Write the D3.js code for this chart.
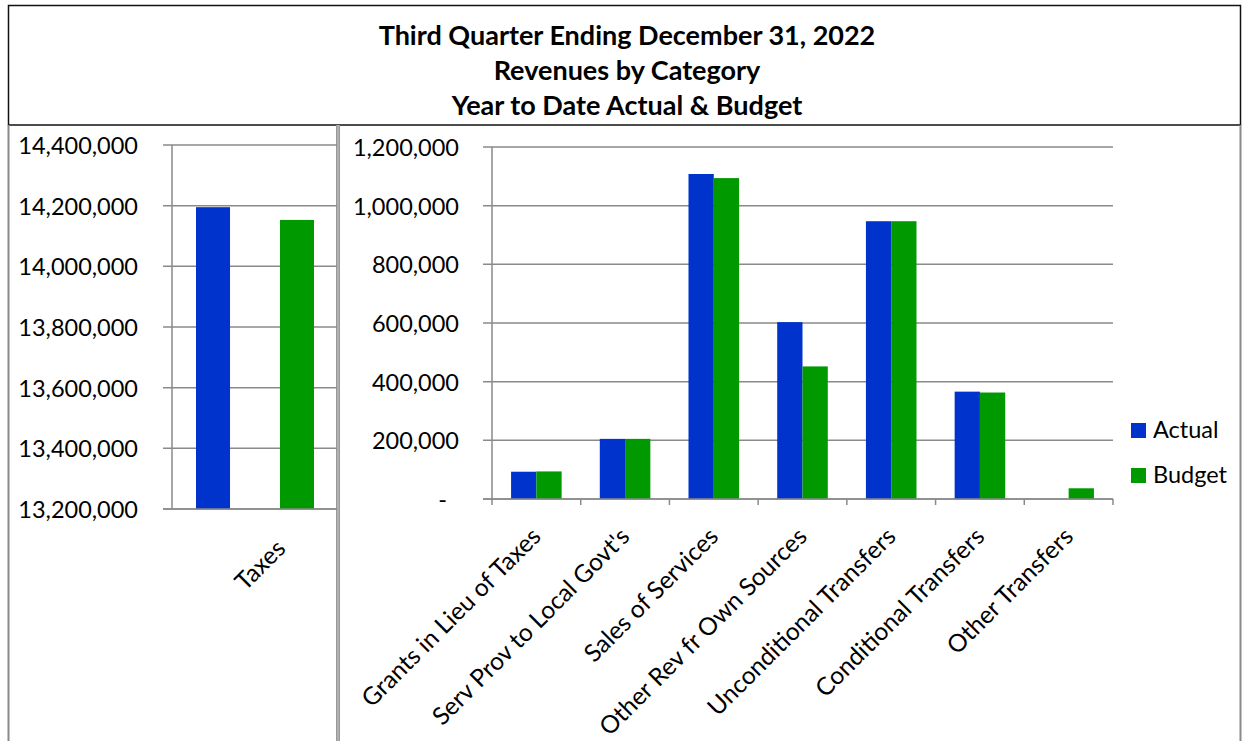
<!DOCTYPE html>
<html>
<head>
<meta charset="utf-8">
<script src="https://cdn.jsdelivr.net/npm/d3@7"></script>
<style>
  body { margin: 0; background: #fff; }
  text { font-family: Lato, "Open Sans", sans-serif; fill: #000; }
</style>
</head>
<body>
<div id="chart"></div>
<script>
// data
var seriesNames = ["Actual", "Budget"]
var seriesColors = ["#0033cc", "#009900"]

var taxesCategory = ["Taxes"]
var taxesActual = [14195000]
var taxesBudget = [14153000]
var taxesTicks = [13200000, 13400000, 13600000, 13800000, 14000000, 14200000, 14400000]

var otherCategories = ["Grants in Lieu of Taxes", "Serv Prov to Local Govt's", "Sales of Services",
  "Other Rev fr Own Sources", "Unconditional Transfers", "Conditional Transfers", "Other Transfers"]
var otherActual = [93000, 205000, 1108000, 603000, 947000, 366000, 0]
var otherBudget = [94000, 205000, 1094000, 452000, 947000, 363000, 36500]
var otherTicks = [0, 200000, 400000, 600000, 800000, 1000000, 1200000]

var titleLines = ["Third Quarter Ending December 31, 2022", "Revenues by Category", "Year to Date Actual & Budget"]

var W = 1246, H = 741
var gridColor = "#8a8a8a"
var fmt = d3.format(",")

var svg = d3.select("#chart").append("svg")
  .attr("width", W)
  .attr("height", H)

// title box
svg.append("clipPath").attr("id", "titleClip")
  .append("rect").attr("x", 8).attr("y", 5).attr("width", 1233).attr("height", 116)

svg.append("g").attr("clip-path", "url(#titleClip)")
  .selectAll("text")
  .data(titleLines)
  .enter().append("text")
  .attr("x", 627)
  .attr("y", function(d, i) { return 44.5 + i * 35 })
  .attr("text-anchor", "middle")
  .style("font-weight", "bold")
  .style("font-size", "27px")
  .text(function(d) { return d })

svg.append("rect")
  .attr("x", 8.5).attr("y", 5.5).attr("width", 1232).attr("height", 119.5)
  .attr("fill", "none").attr("stroke", "#111").attr("stroke-width", 1.5)

// panel borders
svg.append("line").attr("x1", 8.5).attr("x2", 8.5).attr("y1", 125).attr("y2", H)
  .attr("stroke", gridColor).attr("stroke-width", 2)
svg.append("line").attr("x1", 338).attr("x2", 338).attr("y1", 125).attr("y2", H)
  .attr("stroke", "#999").attr("stroke-width", 4)
svg.append("line").attr("x1", 338).attr("x2", 338).attr("y1", 125).attr("y2", H)
  .attr("stroke", "#c8c8c8").attr("stroke-width", 1)
svg.append("line").attr("x1", 1240.5).attr("x2", 1240.5).attr("y1", 125).attr("y2", H)
  .attr("stroke", gridColor).attr("stroke-width", 2)

function drawPanel(opt) {
  var g = svg.append("g")

  var y = d3.scaleLinear().domain(opt.domain).range([opt.bottom, opt.top])

  var x0 = d3.scaleBand()
    .domain(opt.categories)
    .range([opt.left, opt.right])
    .paddingInner(opt.padIn)
    .paddingOuter(opt.padOut)

  var x1 = d3.scaleBand()
    .domain(seriesNames)
    .range([0, x0.bandwidth()])
    .paddingInner(opt.subPad)

  // gridlines
  g.selectAll(".grid")
    .data(opt.ticks)
    .enter().append("line")
    .attr("class", "grid")
    .attr("x1", opt.left - 9)
    .attr("x2", opt.gridEnd)
    .attr("y1", function(d) { return y(d) })
    .attr("y2", function(d) { return y(d) })
    .attr("stroke", gridColor)
    .attr("stroke-width", 1.5)

  // y axis labels
  var yAxis = g.append("g")
    .attr("transform", "translate(" + opt.labelX + ",0)")
    .call(d3.axisLeft(y).tickValues(opt.ticks).tickSize(0).tickPadding(0)
      .tickFormat(function(d) { return d == 0 ? "-" : fmt(d) }))
  yAxis.select(".domain").remove()
  yAxis.selectAll("text")
    .style("font-family", "Lato, sans-serif")
    .style("font-size", "23.5px")
    .attr("fill", "#000")
    .attr("dy", "0.36em")
    .attr("dx", function(d) { return d == 0 ? -12 : 0 })

  // vertical axis line
  g.append("line")
    .attr("x1", opt.left).attr("x2", opt.left)
    .attr("y1", opt.top).attr("y2", opt.bottom + (opt.catTicks ? 6 : 0))
    .attr("stroke", gridColor).attr("stroke-width", 1.5)

  // category tick marks
  if (opt.catTicks) {
    var step = x0.step()
    g.selectAll(".ctick")
      .data(opt.categories)
      .enter().append("line")
      .attr("class", "ctick")
      .attr("x1", function(d) { return x0(d) - step * opt.padIn / 2 + step })
      .attr("x2", function(d) { return x0(d) - step * opt.padIn / 2 + step })
      .attr("y1", opt.bottom)
      .attr("y2", opt.bottom + 6)
      .attr("stroke", gridColor).attr("stroke-width", 1.5)
  }

  // bars
  var rows = opt.categories.map(function(c, i) {
    return { cat: c, vals: [opt.actual[i], opt.budget[i]] }
  })

  var groups = g.selectAll(".grp")
    .data(rows)
    .enter().append("g")
    .attr("class", "grp")
    .attr("transform", function(d) { return "translate(" + x0(d.cat) + ",0)" })

  groups.selectAll("rect")
    .data(function(d) {
      return d.vals.map(function(v, k) { return { s: seriesNames[k], v: v, k: k } })
    })
    .enter().append("rect")
    .attr("x", function(d) { return x1(d.s) })
    .attr("y", function(d) { return y(d.v) })
    .attr("width", x1.bandwidth())
    .attr("height", function(d) { return opt.bottom - y(d.v) })
    .attr("fill", function(d) { return seriesColors[d.k] })

  // bottom axis line
  g.append("line")
    .attr("x1", opt.left - 9).attr("x2", opt.gridEnd)
    .attr("y1", opt.bottom).attr("y2", opt.bottom)
    .attr("stroke", gridColor).attr("stroke-width", 1.5)

  // category labels
  g.selectAll(".clab")
    .data(opt.categories)
    .enter().append("text")
    .attr("class", "clab")
    .attr("text-anchor", "end")
    .style("font-size", "24.5px")
    .attr("transform", function(d) {
      var cx = x0(d) + x0.bandwidth() / 2 + opt.labDx
      return "translate(" + cx + "," + (opt.bottom + opt.labDy) + ") rotate(-45)"
    })
    .text(function(d) { return d })
}

drawPanel({
  categories: taxesCategory, actual: taxesActual, budget: taxesBudget,
  domain: [13200000, 14400000], ticks: taxesTicks,
  top: 145, bottom: 509, left: 172, right: 338, gridEnd: 337,
  padIn: 0, padOut: 0.2034, subPad: 0.595,
  labelX: 138, catTicks: false, labDx: 32, labDy: 41
})

drawPanel({
  categories: otherCategories, actual: otherActual, budget: otherBudget,
  domain: [0, 1200000], ticks: otherTicks,
  top: 147, bottom: 499, left: 492, right: 1113, gridEnd: 1113,
  padIn: 0.43, padOut: 0.215, subPad: 0,
  labelX: 459, catTicks: true, labDx: 6, labDy: 39
})

// legend
var legend = svg.append("g")
legend.selectAll("rect")
  .data(seriesNames)
  .enter().append("rect")
  .attr("x", 1131)
  .attr("y", function(d, i) { return 423 + i * 45 })
  .attr("width", 15).attr("height", 15)
  .attr("fill", function(d, i) { return seriesColors[i] })
legend.selectAll("text")
  .data(seriesNames)
  .enter().append("text")
  .attr("x", 1153)
  .attr("y", function(d, i) { return 437.5 + i * 45 })
  .style("font-size", "23.5px")
  .text(function(d) { return d })
</script>
</body>
</html>
